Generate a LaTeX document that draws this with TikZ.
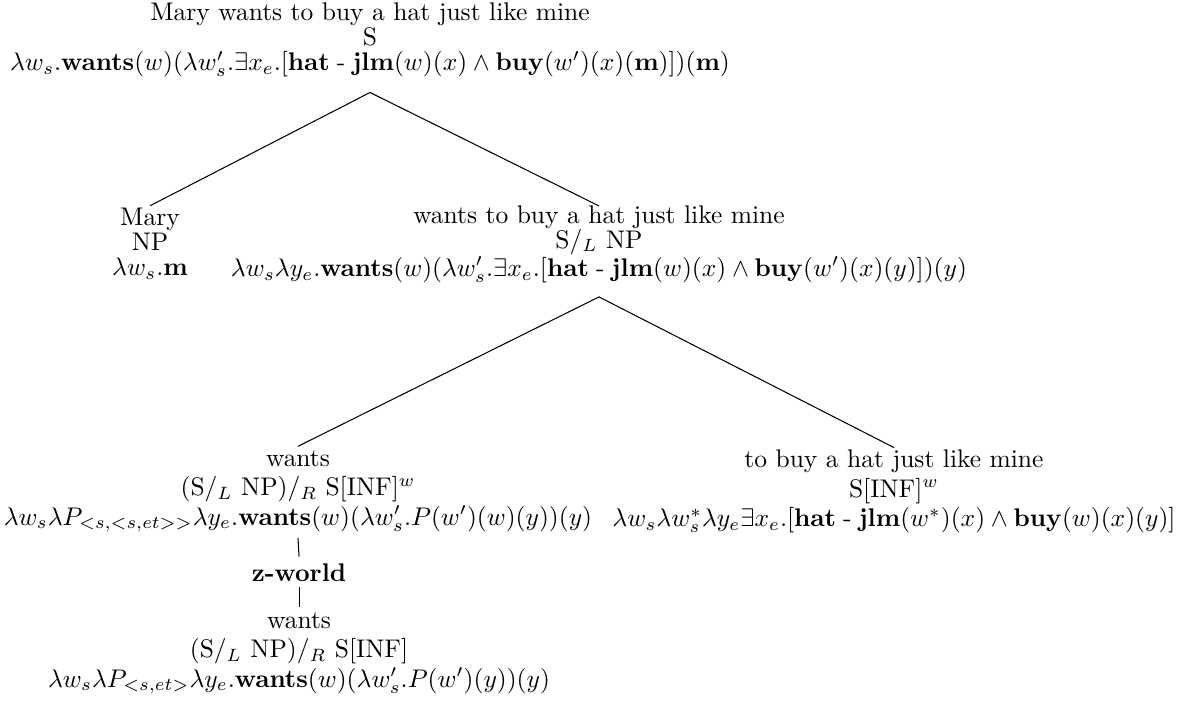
\documentclass[tikz,border=0pt]{standalone}
\usepackage{amsmath}
\usepackage{tikz}
\usetikzlibrary{positioning}

\begin{document}
\begin{tikzpicture}[
  tnode/.style={align=center, inner sep=0pt, scale=0.975, transform shape, font=\fontsize{10}{9.8}\selectfont},
  tnodew/.style={tnode, font=\fontsize{10}{11.5}\selectfont},
  branch/.style={line width=0.4pt}
]
  \useasboundingbox (0,0) rectangle (16.007,-9.435);
  \node[tnode] (s) at (4.973,-0.538) {Mary wants to buy a hat just like mine\\S\\
    $\lambda w_s.\mathbf{wants}(w)(\lambda w'_s.\exists x_e.[\mathbf{hat}\;\text{-}\;\mathbf{jlm}(w)(x)\wedge\mathbf{buy}(w')(x)(\mathbf{m})])(\mathbf{m})$};
  \node[tnode] (mary) at (2.016,-3.279) {Mary\\NP\\$\lambda w_s.\mathbf{m}$};
  \node[tnode] (vp) at (8.050,-3.279) {wants to buy a hat just like mine\\S/$_L$ NP\\
    $\lambda w_s\lambda y_e.\mathbf{wants}(w)(\lambda w'_s.\exists x_e.[\mathbf{hat}\;\text{-}\;\mathbf{jlm}(w)(x)\wedge\mathbf{buy}(w')(x)(y)])(y)$};
  \node[tnodew] (wantsw) at (4.005,-6.606) {wants\\(S/$_L$ NP)/$_R$ S[INF]$^w$\\
    $\lambda w_s\lambda P_{<s,<s,et>>}\lambda y_e.\mathbf{wants}(w)(\lambda w'_s.P(w')(w)(y))(y)$};
  \node[tnodew] (inf) at (12.015,-6.606) {to buy a hat just like mine\\S[INF]$^w$\\
    $\lambda w_s\lambda w^*_s\lambda y_e\exists x_e.[\mathbf{hat}\;\text{-}\;\mathbf{jlm}(w^*)(x)\wedge\mathbf{buy}(w)(x)(y)]$};
  \node[tnode] (zw) at (4.019,-7.701) {\textbf{z-world}};
  \node[tnodew] (wants) at (4.019,-8.785) {wants\\(S/$_L$ NP)/$_R$ S[INF]\\
    $\lambda w_s\lambda P_{<s,et>}\lambda y_e.\mathbf{wants}(w)(\lambda w'_s.P(w')(y))(y)$};

  \draw[branch] ([yshift=-5.7pt]s.south) -- ([yshift=0.8pt]mary.north);
  \draw[branch] ([yshift=-5.7pt]s.south) -- ([yshift=-0.4pt]vp.north);
  \draw[branch] ([yshift=-5.3pt]vp.south) -- ([yshift=1.5pt]wantsw.north);
  \draw[branch] ([yshift=-5.3pt]vp.south) -- ([yshift=0.8pt]inf.north);
  \draw[branch] ([yshift=-2pt]wantsw.south) -- ([yshift=2.7pt]zw.north);
  \draw[branch] ([yshift=-1.9pt]zw.south) -- ([yshift=1.9pt]wants.north);
\end{tikzpicture}
\end{document}
